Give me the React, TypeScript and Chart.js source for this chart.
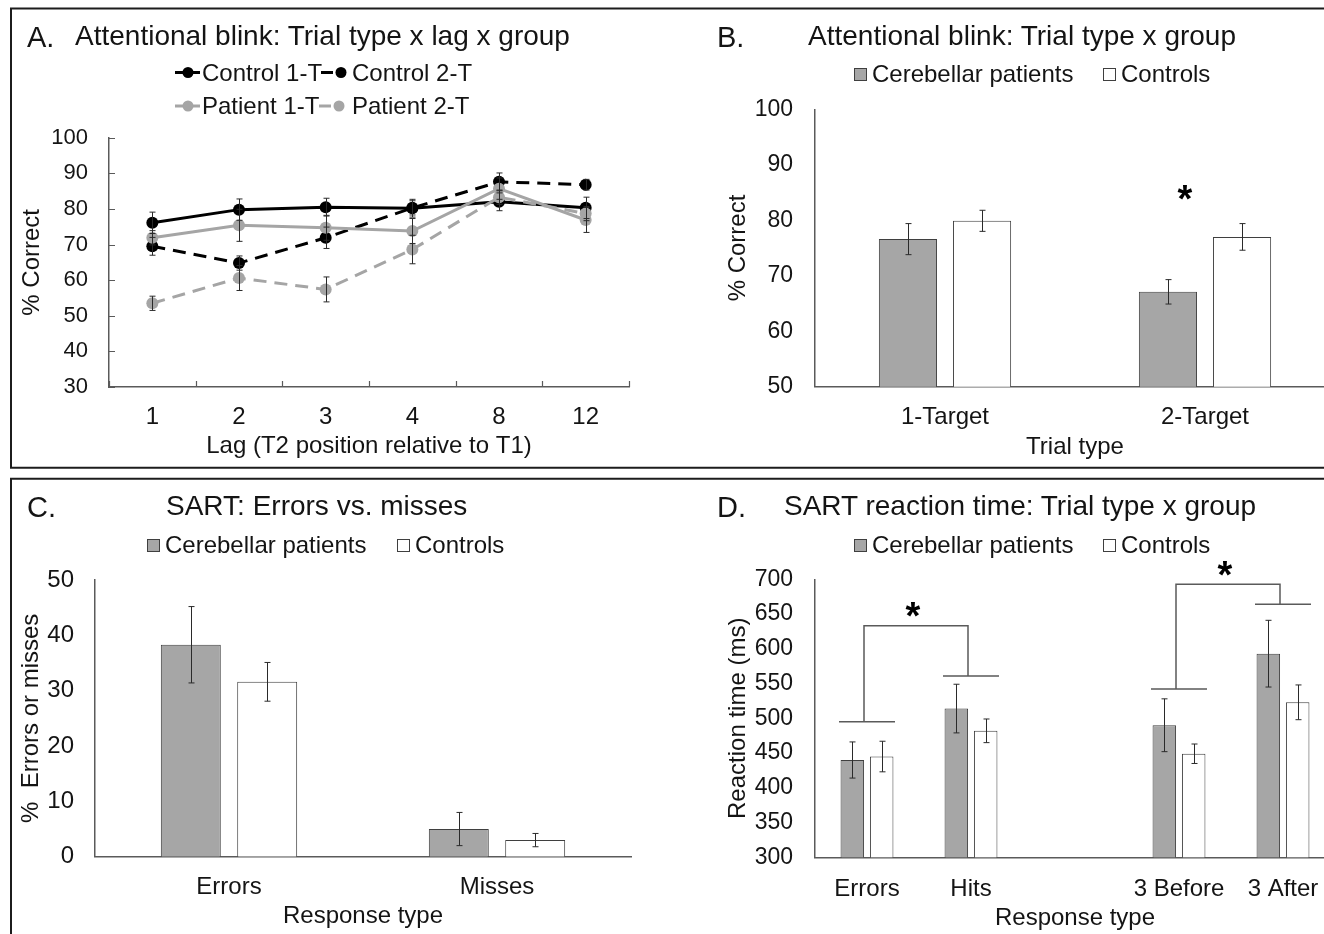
import React, { useEffect, useRef } from 'react';
import { Chart, registerables } from 'chart.js';

Chart.register(...registerables);

const FONT = '"Liberation Sans", Arial, Helvetica, sans-serif';
const INK = '#141414';
const AXIS = '#5a5a5a';
const PATIENT_FILL = '#A6A6A6';
const CONTROL_FILL = '#FFFFFF';
const BAR_EDGE = '#3f3f3f';
const GREY_LINE = '#A5A5A5';
const ERR = '#2a2a2a';

// ---------- Panel A: Attentional blink, trial type x lag x group ----------
const lagLabels = ['1', '2', '3', '4', '8', '12'];
const control1T = [76.1, 79.8, 80.5, 80.2, 82.0, 80.3];
const control1TErr = [3, 3, 2.5, 2.5, 2.5, 3];
const control2T = [69.5, 64.8, 71.9, 80.3, 87.6, 86.8];
const control2TErr = [2.5, 2, 3, 2, 2.5, 1.5];
const patient1T = [71.9, 75.4, 74.7, 73.8, 85.7, 76.9];
const patient1TErr = [2, 4.5, 3.5, 3.5, 3, 3.5];
const patient2T = [53.5, 60.6, 57.4, 68.6, 83.3, 78.7];
const patient2TErr = [2, 3.5, 3.5, 4, 2, 2];

// ---------- Panel B: Attentional blink, trial type x group ----------
const trialTypes = ['1-Target', '2-Target'];
const bPatients = [76.6, 67.1];
const bPatientsErr = [2.8, 2.2];
const bControls = [79.9, 77.0];
const bControlsErr = [1.9, 2.4];
const bStarAt = [1];
const bStarLevel = [85.4];

// ---------- Panel C: SART errors vs misses ----------
const responseTypesC = ['Errors', 'Misses'];
const cPatients = [38.3, 5.0];
const cPatientsErr = [6.9, 3.0];
const cControls = [31.6, 3.0];
const cControlsErr = [3.5, 1.2];

// ---------- Panel D: SART reaction time ----------
const responseTypesD = ['Errors', 'Hits', '', '3 Before', '3 After'];
const dPatients = [440, 514, null, 490, 593];
const dPatientsErr = [26, 35, null, 38, 48];
const dControls = [445, 482, null, 449, 523];
const dControlsErr = [22, 17, null, 14, 25];
const dCapLevels = [495, 561, null, 542, 664];
const dBracketFrom = [0, 3];
const dBracketTo = [1, 4];
const dBracketTop = [633, 693];
const dStarAt = [0.5, 3.5];
const dStarLevel = [660.5, 718.5];

// ---------- plugins ----------
const errorBarsPlugin = {
  id: 'errorBars',
  afterDatasetsDraw(chart: any, _args: any, opts: any) {
    const ctx = chart.ctx;
    const y = chart.scales.y;
    const cap = opts?.cap ?? 3;
    chart.data.datasets.forEach((ds: any, i: number) => {
      const errs = ds.errors;
      if (!errs) return;
      const meta = chart.getDatasetMeta(i);
      meta.data.forEach((el: any, j: number) => {
        const v = ds.data[j];
        const e = errs[j];
        if (v == null || e == null) return;
        const x = Math.round(el.x) + 0.5;
        const top = y.getPixelForValue(v + e);
        const bot = y.getPixelForValue(v - e);
        ctx.save();
        ctx.strokeStyle = ERR;
        ctx.lineWidth = 1;
        ctx.beginPath();
        ctx.moveTo(x, top);
        ctx.lineTo(x, bot);
        ctx.moveTo(x - cap, top);
        ctx.lineTo(x + cap, top);
        ctx.moveTo(x - cap, bot);
        ctx.lineTo(x + cap, bot);
        ctx.stroke();
        ctx.restore();
      });
    });
  },
};

const innerTicksPlugin = {
  id: 'innerTicks',
  afterDraw(chart: any, _args: any, opts: any) {
    if (!opts || !opts.enabled) return;
    const ctx = chart.ctx;
    const x = chart.scales.x;
    const y = chart.scales.y;
    const len = opts.length ?? 6;
    const area = chart.chartArea;
    ctx.save();
    ctx.strokeStyle = AXIS;
    ctx.lineWidth = 1.2;
    ctx.beginPath();
    y.ticks.forEach((t: any) => {
      const py = Math.round(y.getPixelForValue(t.value)) + 0.5;
      ctx.moveTo(area.left, py);
      ctx.lineTo(area.left + len, py);
    });
    const n = x.getLabels().length;
    for (let i = 0; i <= n; i++) {
      const px = Math.round(x.getPixelForValue(i - 0.5)) + 0.5;
      ctx.moveTo(px, area.bottom);
      ctx.lineTo(px, area.bottom - len);
    }
    ctx.stroke();
    ctx.restore();
  },
};

const sigPlugin = {
  id: 'sig',
  afterDatasetsDraw(chart: any, _args: any, opts: any) {
    if (!opts) return;
    const ctx = chart.ctx;
    const x = chart.scales.x;
    const y = chart.scales.y;
    ctx.save();
    ctx.strokeStyle = AXIS;
    ctx.lineWidth = 1.5;
    const caps: (number | null)[] = opts.capLevels || [];
    const half = opts.capHalf ?? 28;
    ctx.beginPath();
    caps.forEach((lv, i) => {
      if (lv == null) return;
      const cx = x.getPixelForValue(i);
      const py = y.getPixelForValue(lv);
      ctx.moveTo(cx - half, py);
      ctx.lineTo(cx + half, py);
    });
    (opts.bracketFrom || []).forEach((from: number, k: number) => {
      const to = opts.bracketTo[k];
      const top = y.getPixelForValue(opts.bracketTop[k]);
      const x1 = x.getPixelForValue(from) - 3;
      const x2 = x.getPixelForValue(to) - 3;
      const y1 = y.getPixelForValue(caps[from] as number);
      const y2 = y.getPixelForValue(caps[to] as number);
      ctx.moveTo(x1, y1);
      ctx.lineTo(x1, top);
      ctx.lineTo(x2, top);
      ctx.lineTo(x2, y2);
    });
    ctx.stroke();
    const size = opts.starSize ?? 38;
    ctx.fillStyle = '#000';
    ctx.font = `bold ${size}px ${FONT}`;
    ctx.textAlign = 'center';
    ctx.textBaseline = 'alphabetic';
    (opts.starAt || []).forEach((pos: number, k: number) => {
      const px = x.getPixelForValue(pos) + (opts.starDx ?? 0);
      const py = y.getPixelForValue(opts.starLevel[k]);
      ctx.fillText('*', px, py + 0.575 * size);
    });
    ctx.restore();
  },
};

type AxisSpec = {
  yMin: number;
  yMax: number;
  yStep: number;
  yTitle: string;
  yTitlePad: number;
  yTickPad: number;
  yTickSize: number;
  yWidth: number;
  xTitle: string;
  xTickPad: number;
  xTitlePad: number;
  xHeight: number;
  top: number;
  right: number;
};

function scalesFor(s: AxisSpec) {
  return {
    x: {
      offset: true,
      grid: { display: false, drawTicks: false },
      border: { display: true, color: AXIS, width: 1.5 },
      ticks: {
        color: INK,
        font: { family: FONT, size: 24 },
        padding: s.xTickPad,
        autoSkip: false,
        maxRotation: 0,
        minRotation: 0,
      },
      title: {
        display: true,
        text: s.xTitle,
        color: INK,
        font: { family: FONT, size: 24 },
        padding: { top: 0, bottom: s.xTitlePad },
      },
      afterFit: (sc: any) => {
        sc.height = s.xHeight;
      },
    },
    y: {
      min: s.yMin,
      max: s.yMax,
      grid: { display: false, drawTicks: false },
      border: { display: true, color: AXIS, width: 1.5 },
      ticks: {
        stepSize: s.yStep,
        color: INK,
        font: { family: FONT, size: s.yTickSize },
        padding: s.yTickPad,
      },
      title: {
        display: true,
        text: s.yTitle,
        color: INK,
        font: { family: FONT, size: 24 },
        padding: { top: s.yTitlePad, bottom: 0 },
      },
      afterFit: (sc: any) => {
        sc.width = s.yWidth;
      },
    },
  };
}

function baseOptions(s: AxisSpec, pluginOpts: any) {
  return {
    responsive: false,
    animation: false as const,
    events: [] as any[],
    layout: { padding: { top: s.top, left: 0, right: s.right, bottom: 0 } },
    scales: scalesFor(s),
    plugins: {
      legend: { display: false },
      tooltip: { enabled: false },
      title: { display: false },
      ...pluginOpts,
    },
  };
}

function barDatasets(p: (number | null)[], pe: (number | null)[], c: (number | null)[], ce: (number | null)[], cat: number, bar: number) {
  return [
    {
      label: 'Cerebellar patients',
      data: p,
      errors: pe,
      backgroundColor: PATIENT_FILL,
      borderColor: BAR_EDGE,
      borderWidth: 1,
      categoryPercentage: cat,
      barPercentage: bar,
    },
    {
      label: 'Controls',
      data: c,
      errors: ce,
      backgroundColor: CONTROL_FILL,
      borderColor: BAR_EDGE,
      borderWidth: 1,
      categoryPercentage: cat,
      barPercentage: bar,
    },
  ];
}

const Txt = ({ x, cy, size, children }: { x: number; cy: number; size: number; children: React.ReactNode }) => (
  <div
    style={{
      position: 'absolute',
      left: x,
      top: cy - 0.4885 * size,
      fontSize: size,
      lineHeight: `${size}px`,
      fontFamily: FONT,
      color: INK,
      whiteSpace: 'pre',
    }}
  >
    {children}
  </div>
);

const Swatch = ({ x, cy, fill }: { x: number; cy: number; fill: string }) => (
  <div
    style={{
      position: 'absolute',
      left: x,
      top: cy - 6,
      width: 11,
      height: 11,
      background: fill,
      border: `1px solid ${BAR_EDGE}`,
    }}
  />
);

export default function App() {
  const aRef = useRef<HTMLCanvasElement>(null);
  const bRef = useRef<HTMLCanvasElement>(null);
  const cRef = useRef<HTMLCanvasElement>(null);
  const dRef = useRef<HTMLCanvasElement>(null);

  useEffect(() => {
    const charts: Chart[] = [];

    // Panel A
    const lineDs = (label: string, data: number[], errors: number[], color: string, dashed: boolean) => ({
      label,
      data,
      errors,
      borderColor: color,
      backgroundColor: color,
      borderWidth: 3,
      borderDash: dashed ? [13, 8] : [],
      pointRadius: 6,
      pointBorderWidth: 0,
      pointBackgroundColor: color,
      tension: 0,
      fill: false,
    });
    charts.push(
      new Chart(aRef.current as HTMLCanvasElement, {
        type: 'line',
        data: {
          labels: lagLabels,
          datasets: [
            lineDs('Patient 1-T', patient1T, patient1TErr, GREY_LINE, false),
            lineDs('Patient 2-T', patient2T, patient2TErr, GREY_LINE, true),
            lineDs('Control 1-T', control1T, control1TErr, '#000000', false),
            lineDs('Control 2-T', control2T, control2TErr, '#000000', true),
          ] as any,
        },
        options: baseOptions(
          {
            yMin: 30, yMax: 100, yStep: 10, yTitle: '% Correct', yTitlePad: 17.6, yTickPad: 21, yTickSize: 22, yWidth: 109,
            xTitle: 'Lag (T2 position relative to T1)', xTickPad: 15.6, xTitlePad: 6.6, xHeight: 80, top: 137.7, right: 31,
          },
          { errorBars: { cap: 3 }, innerTicks: { enabled: true, length: 6 } }
        ) as any,
        plugins: [errorBarsPlugin, innerTicksPlugin],
      })
    );

    // Panel B
    charts.push(
      new Chart(bRef.current as HTMLCanvasElement, {
        type: 'bar',
        data: { labels: trialTypes, datasets: barDatasets(bPatients, bPatientsErr, bControls, bControlsErr, 0.57, 0.785) as any },
        options: baseOptions(
          {
            yMin: 50, yMax: 100, yStep: 10, yTitle: '% Correct', yTitlePad: 63.6, yTickPad: 22, yTickSize: 23, yWidth: 155,
            xTitle: 'Trial type', xTickPad: 15.9, xTitlePad: 5.6, xHeight: 80.3, top: 109.3, right: 25,
          },
          { errorBars: { cap: 3 }, sig: { starAt: bStarAt, starLevel: bStarLevel, starDx: -20, starSize: 38 } }
        ) as any,
        plugins: [errorBarsPlugin, sigPlugin],
      })
    );

    // Panel C
    charts.push(
      new Chart(cRef.current as HTMLCanvasElement, {
        type: 'bar',
        data: { labels: responseTypesC, datasets: barDatasets(cPatients, cPatientsErr, cControls, cControlsErr, 0.57, 0.785) as any },
        options: baseOptions(
          {
            yMin: 0, yMax: 50, yStep: 10, yTitle: '%  Errors or misses', yTitlePad: 17.3, yTickPad: 21, yTickSize: 24, yWidth: 95,
            xTitle: 'Response type', xTickPad: 15.9, xTitlePad: 2.9, xHeight: 77.3, top: 110, right: 29,
          },
          { errorBars: { cap: 3 } }
        ) as any,
        plugins: [errorBarsPlugin],
      })
    );

    // Panel D
    charts.push(
      new Chart(dRef.current as HTMLCanvasElement, {
        type: 'bar',
        data: { labels: responseTypesD, datasets: barDatasets(dPatients, dPatientsErr, dControls, dControlsErr, 0.565, 0.8) as any },
        options: baseOptions(
          {
            yMin: 300, yMax: 700, yStep: 50, yTitle: 'Reaction time (ms)', yTitlePad: 63.6, yTickPad: 22, yTickSize: 23, yWidth: 155,
            xTitle: 'Response type', xTickPad: 17.7, xTitlePad: 1.6, xHeight: 76.7, top: 109.3, right: 25,
          },
          {
            errorBars: { cap: 3 },
            sig: {
              capLevels: dCapLevels,
              capHalf: 28,
              bracketFrom: dBracketFrom,
              bracketTo: dBracketTo,
              bracketTop: dBracketTop,
              starAt: dStarAt,
              starLevel: dStarLevel,
              starDx: -6,
              starSize: 38,
            },
          }
        ) as any,
        plugins: [errorBarsPlugin, sigPlugin],
      })
    );

    return () => {
      charts.forEach((c) => c.destroy());
    };
  }, []);

  const frame = '#1c1c1c';

  return (
    <div
      style={{
        position: 'fixed',
        left: 0,
        top: 0,
        width: 1324,
        height: 934,
        overflow: 'hidden',
        background: '#ffffff',
      }}
    >
      <canvas ref={aRef} width={660} height={467} style={{ position: 'absolute', left: 0, top: 0 }} />
      <canvas ref={bRef} width={700} height={467} style={{ position: 'absolute', left: 660, top: 0 }} />
      <canvas ref={cRef} width={660} height={464} style={{ position: 'absolute', left: 0, top: 470 }} />
      <canvas ref={dRef} width={700} height={464} style={{ position: 'absolute', left: 660, top: 470 }} />

      {/* Panel A texts */}
      <Txt x={27} cy={37} size={29}>A.</Txt>
      <Txt x={75} cy={36} size={28}>Attentional blink: Trial type x lag x group</Txt>
      <Txt x={202} cy={72.5} size={24}>Control 1-T</Txt>
      <Txt x={352} cy={72.5} size={24}>Control 2-T</Txt>
      <Txt x={202} cy={106} size={24}>Patient 1-T</Txt>
      <Txt x={352} cy={106} size={24}>Patient 2-T</Txt>

      {/* Panel B texts */}
      <Txt x={717} cy={37} size={29}>B.</Txt>
      <Txt x={808} cy={36} size={28}>Attentional blink: Trial type x group</Txt>
      <Swatch x={854} cy={74} fill={PATIENT_FILL} />
      <Txt x={872} cy={74} size={24}>Cerebellar patients</Txt>
      <Swatch x={1103} cy={74} fill={CONTROL_FILL} />
      <Txt x={1121} cy={74} size={24}>Controls</Txt>

      {/* Panel C texts */}
      <Txt x={27} cy={507} size={29}>C.</Txt>
      <Txt x={166} cy={506} size={28}>SART: Errors vs. misses</Txt>
      <Swatch x={147} cy={545} fill={PATIENT_FILL} />
      <Txt x={165} cy={545} size={24}>Cerebellar patients</Txt>
      <Swatch x={397} cy={545} fill={CONTROL_FILL} />
      <Txt x={415} cy={545} size={24}>Controls</Txt>

      {/* Panel D texts */}
      <Txt x={717} cy={507} size={29}>D.</Txt>
      <Txt x={784} cy={506} size={28}>SART reaction time: Trial type x group</Txt>
      <Swatch x={854} cy={545} fill={PATIENT_FILL} />
      <Txt x={872} cy={545} size={24}>Cerebellar patients</Txt>
      <Swatch x={1103} cy={545} fill={CONTROL_FILL} />
      <Txt x={1121} cy={545} size={24}>Controls</Txt>

      <svg
        width={1324}
        height={934}
        style={{ position: 'absolute', left: 0, top: 0, pointerEvents: 'none' }}
      >
        {/* Panel A legend markers */}
        <line x1={175} y1={72.5} x2={200} y2={72.5} stroke="#000" strokeWidth={3} />
        <circle cx={188} cy={72.5} r={5.5} fill="#000" />
        <line x1={321} y1={72.5} x2={346} y2={72.5} stroke="#000" strokeWidth={3} strokeDasharray="12 8" />
        <circle cx={341} cy={72.5} r={5.5} fill="#000" />
        <line x1={175} y1={106} x2={200} y2={106} stroke={GREY_LINE} strokeWidth={3} />
        <circle cx={188} cy={106} r={5.5} fill={GREY_LINE} />
        <line x1={319} y1={106} x2={344} y2={106} stroke={GREY_LINE} strokeWidth={3} strokeDasharray="12 8" />
        <circle cx={339} cy={106} r={5.5} fill={GREY_LINE} />

        {/* panel frames */}
        <line x1={10} y1={8.5} x2={1324} y2={8.5} stroke={frame} strokeWidth={2} />
        <line x1={11} y1={8} x2={11} y2={468} stroke={frame} strokeWidth={2} />
        <line x1={10} y1={467.7} x2={1324} y2={467.7} stroke={frame} strokeWidth={2} />
        <line x1={10} y1={478.7} x2={1324} y2={478.7} stroke={frame} strokeWidth={2} />
        <line x1={11} y1={478} x2={11} y2={934} stroke={frame} strokeWidth={2} />
      </svg>
    </div>
  );
}
